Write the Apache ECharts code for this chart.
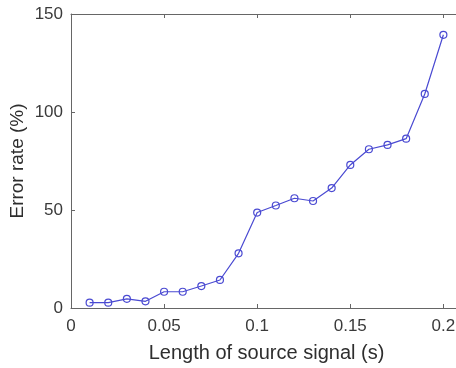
<!DOCTYPE html>
<html>
<head>
<meta charset="utf-8">
<script src="https://cdn.jsdelivr.net/npm/echarts@6/dist/echarts.min.js"></script>
<style>
html,body{margin:0;padding:0;background:#fff;}
#c{width:456px;height:368px;}
</style>
</head>
<body>
<div id="c"></div>
<script>
var signalLength = [0.01,0.02,0.03,0.04,0.05,0.06,0.07,0.08,0.09,0.10,0.11,0.12,0.13,0.14,0.15,0.16,0.17,0.18,0.19,0.20];
var errorRate = [2.7,2.7,4.7,3.4,8.3,8.3,11.2,14.3,27.9,48.7,52.3,56,54.6,61.2,73,81,83.2,86.4,109.2,139.4];
var xTicks = [0,0.05,0.1,0.15,0.2];
var yTicks = [0,50,100,150];

var chart = echarts.init(document.getElementById('c'), null, {renderer:'canvas'});
var font = 'Liberation Sans, Arial, Helvetica, sans-serif';
var axisColor = '#666';
var labelColor = '#3a3a3a';
chart.setOption({
  animation:false,
  backgroundColor:'#fff',
  grid:{left:71, top:14, bottom:60, right:-6, containLabel:false, outerBoundsMode:'none'},
  xAxis:[{
    type:'value', min:0, max:0.21, interval:0.05,
    name:'Length of source signal (s)', nameLocation:'middle', nameGap:35, nameMoveOverlap:false,
    nameTextStyle:{fontFamily:font, fontSize:20, color:'#2e2e2e'},
    axisLine:{show:true, lineStyle:{color:axisColor, width:1}},
    axisTick:{show:true, inside:true, length:4, lineStyle:{color:axisColor}},
    axisLabel:{fontFamily:font, fontSize:17, color:labelColor, margin:10,
      showMaxLabel:false,
      formatter:function(v){ return xTicks.indexOf(Math.round(v*100)/100)>=0 ? String(Math.round(v*100)/100) : ''; }},
    splitLine:{show:false}
  },{
    type:'value', min:0, max:0.21, interval:0.05, position:'top',
    axisLine:{show:true, lineStyle:{color:axisColor, width:1}},
    axisTick:{show:true, inside:true, length:4, lineStyle:{color:axisColor}},
    axisLabel:{show:false}, splitLine:{show:false}
  }],
  yAxis:[{
    type:'value', min:0, max:150, interval:50,
    name:'Error rate (%)', nameLocation:'middle', nameGap:44, nameMoveOverlap:false,
    nameTextStyle:{fontFamily:font, fontSize:19, color:'#2e2e2e'},
    axisLine:{show:true, lineStyle:{color:axisColor, width:1}},
    axisTick:{show:true, inside:true, length:4, lineStyle:{color:axisColor}},
    axisLabel:{fontFamily:font, fontSize:17, color:labelColor, margin:8,
      formatter:function(v){ return yTicks.indexOf(v)>=0 ? String(v) : ''; }},
    splitLine:{show:false}
  }],
  series:[{
    type:'line',
    data:signalLength.map(function(x,i){return [x,errorRate[i]];}),
    symbol:'circle', symbolSize:7,
    lineStyle:{color:'#4a4ad2', width:1.2},
    itemStyle:{color:'rgba(255,255,255,0)', borderColor:'#4a4ad2', borderWidth:1.2}
  }]
});
</script>
</body>
</html>
